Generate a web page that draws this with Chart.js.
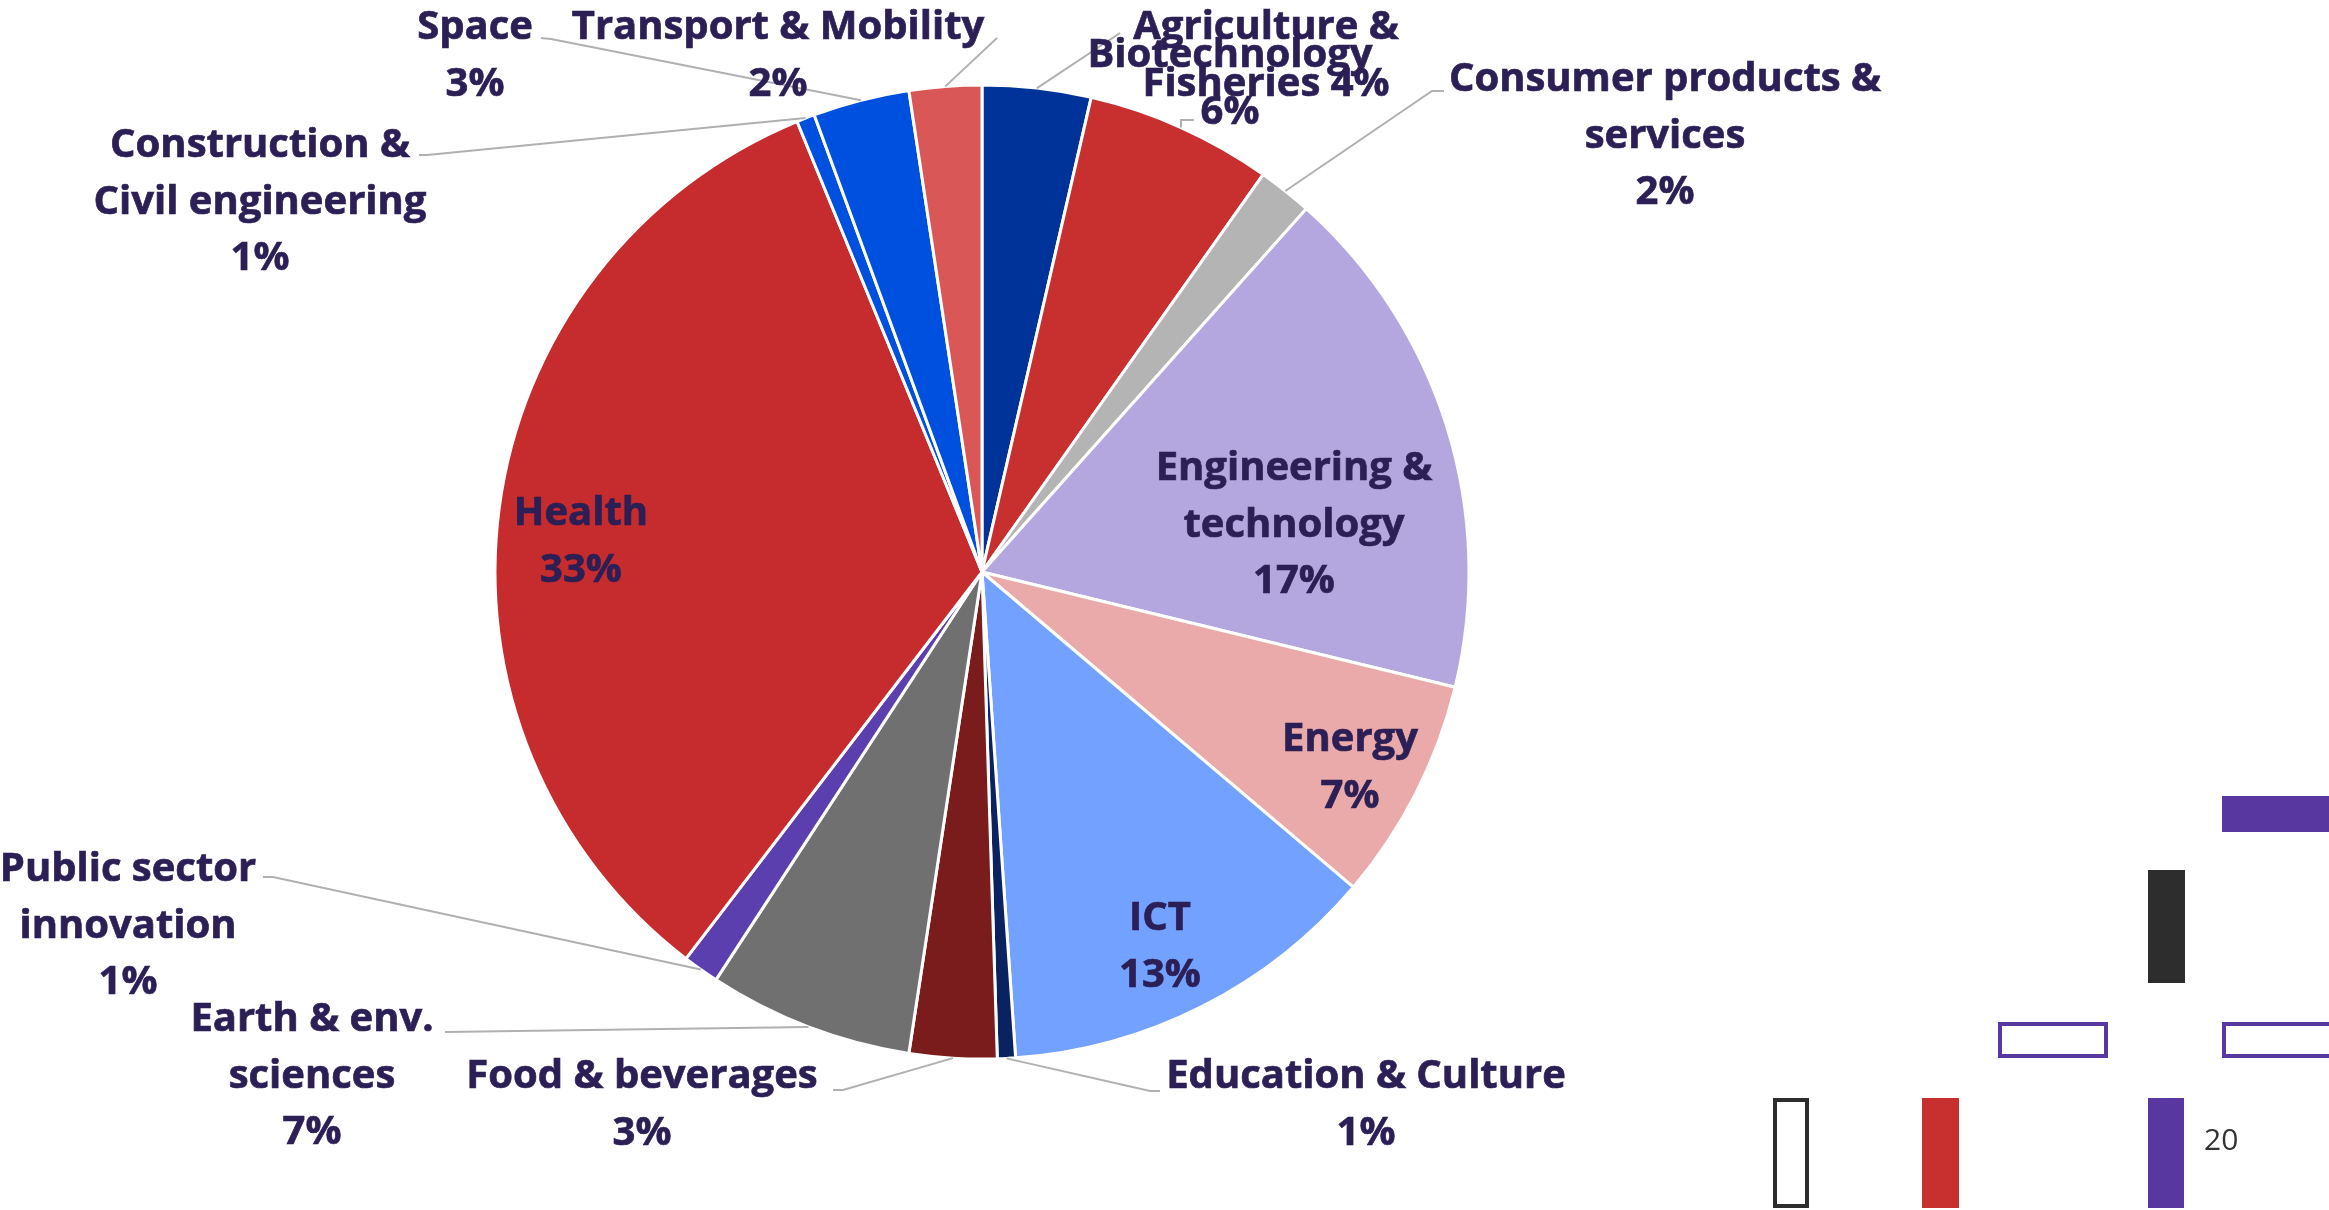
<!DOCTYPE html>
<html>
<head>
<meta charset="utf-8">
<script src="https://cdn.jsdelivr.net/npm/chart.js@4.4.1/dist/chart.umd.min.js"></script>
<style>
  html, body { margin: 0; padding: 0; background: #fff; }
  #wrap { position: relative; width: 2329px; height: 1210px; overflow: hidden; }
  .deco { position: absolute; box-sizing: border-box; }
  #pageNo { position: absolute; left: 2204px; top: 1118px; font: 30px "Open Sans", sans-serif; color: #333; }
</style>
</head>
<body>
<div id="wrap">
  <canvas id="myChart" width="2329" height="1210"></canvas>
  <div class="deco" style="left:2222px;top:796px;width:120px;height:36px;background:#5838a0"></div>
  <div class="deco" style="left:2148px;top:870px;width:37px;height:113px;background:#2d2d2d"></div>
  <div class="deco" style="left:1998px;top:1022px;width:110px;height:36px;border:4px solid #5838a0"></div>
  <div class="deco" style="left:2222px;top:1022px;width:120px;height:36px;border:4px solid #5838a0"></div>
  <div class="deco" style="left:1773px;top:1098px;width:36px;height:110px;border:4px solid #2d2d2d"></div>
  <div class="deco" style="left:1922px;top:1098px;width:37px;height:110px;background:#c8302f"></div>
  <div class="deco" style="left:2148px;top:1098px;width:36px;height:110px;background:#5838a0"></div>
  <div id="pageNo">20</div>
</div>
<script>
// sectors, clockwise from 12 o'clock
var sectors = ['Agriculture & Fisheries', 'Biotechnology', 'Consumer products & services',
  'Engineering & technology', 'Energy', 'ICT', 'Education & Culture', 'Food & beverages',
  'Earth & env. sciences', 'Public sector innovation', 'Health',
  'Construction & Civil engineering', 'Space', 'Transport & Mobility'];

// share of projects, %
var shares = [3.6, 6.2, 1.8, 17.2, 7.4, 12.7, 0.6, 2.9, 6.8, 1.2, 33.4, 0.6, 3.2, 2.4];

var sliceColors = ['#00339a', '#c8302f', '#b4b4b4', '#b4a7df', '#ebaaaa', '#72a1ff', '#0a2360',
  '#7b1c1c', '#707070', '#5b3faf', '#c62b2d', '#0050df', '#0050df', '#d95757'];

// how each label is broken into lines, {p} = percentage
var labelLines = [
  ['Agriculture &', 'Fisheries {p}'],
  ['Biotechnology', '{p}'],
  ['Consumer products &', 'services', '{p}'],
  ['Engineering &', 'technology', '{p}'],
  ['Energy', '{p}'],
  ['ICT', '{p}'],
  ['Education & Culture', '{p}'],
  ['Food & beverages', '{p}'],
  ['Earth & env.', 'sciences', '{p}'],
  ['Public sector', 'innovation', '{p}'],
  ['Health', '{p}'],
  ['Construction &', 'Civil engineering', '{p}'],
  ['Space', '{p}'],
  ['Transport & Mobility', '{p}']
];

// where label text sits (centre of first line) and the leader line bends
var labelAt = [[1266, 25], [1230, 53], [1665, 77], [1294, 466], [1350, 737], [1160, 916],
  [1366, 1074], [642, 1074], [312, 1017], [128, 867], [581, 511], [260, 143], [475, 25], [778, 25]];

var leaders = [
  [[1120, 33]],
  [[1181, 120], [1194, 120]],
  [[1432, 91], [1444, 91]],
  null, null, null,
  [[1150, 1091], [1160, 1091]],
  [[843, 1090], [833, 1090]],
  [[445, 1032]],
  [[273, 877], [263, 877]],
  null,
  [[427, 155], [419, 155]],
  [[551, 39], [541, 38]],
  [[997, 38]]
];

var FONT_SIZE = 40;
var LINE_GAP = 56.5;

var labelPlugin = {
  id: 'labels',
  afterDatasetsDraw: function(chart) {
    var ctx = chart.ctx;
    var arcs = chart.getDatasetMeta(0).data;
    ctx.save();
    // leader lines first
    ctx.strokeStyle = '#b0b0b0';
    ctx.lineWidth = 2;
    for (var i = 0; i < arcs.length; i++) {
      if (!leaders[i]) continue;
      var a = arcs[i];
      var mid = (a.startAngle + a.endAngle) / 2;
      ctx.beginPath();
      ctx.moveTo(a.x + Math.cos(mid) * a.outerRadius, a.y + Math.sin(mid) * a.outerRadius);
      for (var k = 0; k < leaders[i].length; k++) {
        ctx.lineTo(leaders[i][k][0], leaders[i][k][1]);
      }
      ctx.stroke();
    }
    ctx.fillStyle = '#2b1f55';
    ctx.strokeStyle = '#2b1f55';
    ctx.lineWidth = 0.7;
    ctx.font = 'bold ' + FONT_SIZE + 'px "Open Sans"';
    ctx.textAlign = 'center';
    ctx.textBaseline = 'alphabetic';
    for (var j = 0; j < labelLines.length; j++) {
      var pct = Math.round(shares[j]) + '%';
      for (var n = 0; n < labelLines[j].length; n++) {
        var txt = labelLines[j][n].replace('{p}', pct);
        var ty = labelAt[j][1] + n * LINE_GAP + FONT_SIZE * 0.36;
        ctx.fillText(txt, labelAt[j][0], ty);
        ctx.strokeText(txt, labelAt[j][0], ty);
      }
    }
    ctx.restore();
  }
};

new Chart('myChart', {
  type: 'pie',
  data: {
    labels: sectors,
    datasets: [{
      data: shares,
      backgroundColor: sliceColors,
      borderColor: '#ffffff',
      borderWidth: 3
    }]
  },
  options: {
    responsive: false,
    animation: false,
    radius: 487,
    layout: { padding: { left: 0, right: 365, top: 0, bottom: 66 } },
    plugins: { legend: { display: false }, tooltip: { enabled: false } }
  },
  plugins: [labelPlugin]
});
</script>
</body>
</html>
